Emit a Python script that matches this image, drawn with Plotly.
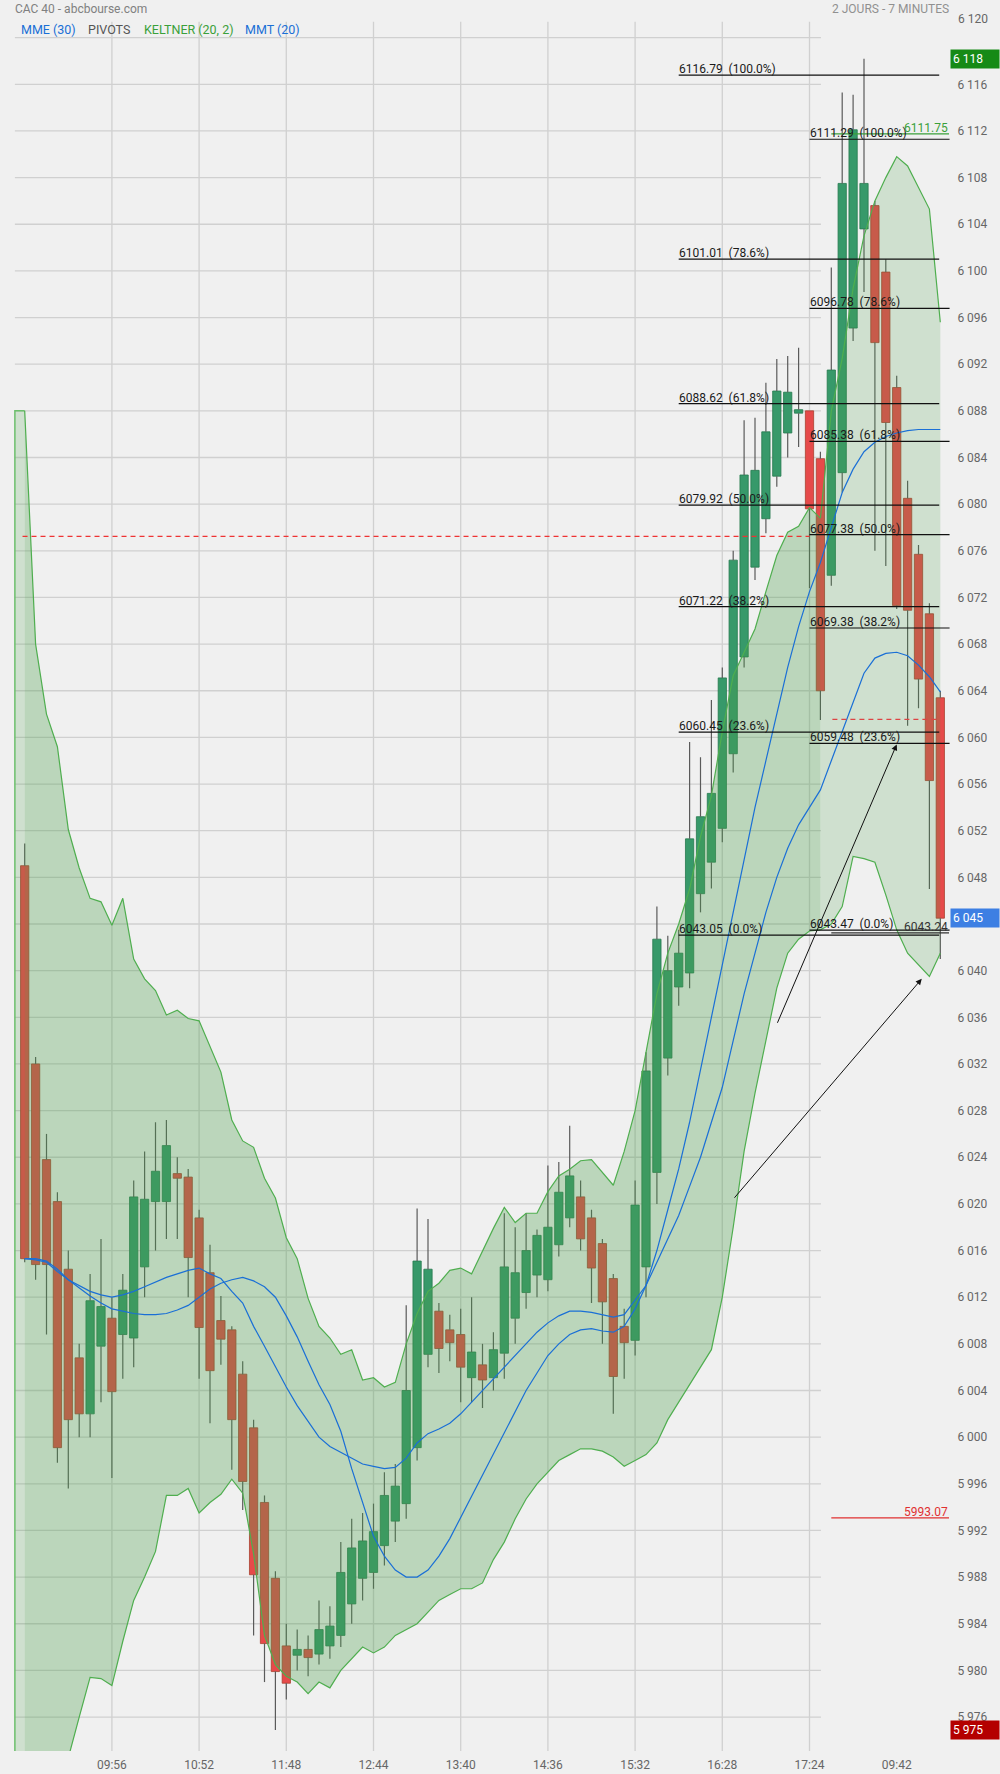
import plotly.graph_objects as go

# ---------------- DATA ----------------
candle_idx = list(range(85))
opens = [6049.0, 6032.0, 6023.8, 6020.2, 6014.4, 6006.8, 6002.0, 6007.8, 6010.2, 6008.8,
         6008.5, 6014.6, 6020.2, 6020.2, 6022.6, 6022.3, 6018.8, 6014.1, 6010.0, 6009.2,
         6005.4, 6000.8, 5994.4, 5987.9, 5982.1, 5981.3, 5981.8, 5981.4, 5982.1, 5983.0,
         5985.7, 5987.9, 5988.4, 5990.7, 5992.8, 5994.3, 5999.1, 6007.1, 6010.8, 6009.2,
         6008.8, 6005.1, 6006.2, 6005.1, 6007.2, 6010.2, 6012.4, 6013.9, 6013.5, 6016.5,
         6018.8, 6020.6, 6018.8, 6016.6, 6013.6, 6009.5, 6008.3, 6014.6, 6022.7, 6032.5,
         6038.6, 6039.8, 6046.6, 6049.3, 6052.2, 6058.6, 6066.9, 6074.6, 6078.75, 6082.4,
         6086.1, 6087.8, 6088.0, 6083.9, 6073.9, 6082.7, 6095.1, 6103.6, 6105.6, 6099.9,
         6090.0, 6080.5, 6075.7, 6070.6, 6063.4]
highs = [6050.9, 6032.6, 6026.0, 6021.0, 6016.0, 6008.0, 6014.0, 6017.0, 6012.0, 6014.0,
         6022.0, 6024.5, 6027.0, 6027.2, 6024.0, 6023.0, 6019.5, 6016.5, 6012.1, 6009.5,
         6006.5, 6001.5, 5995.0, 5988.5, 5984.0, 5983.5, 5983.0, 5986.0, 5985.5, 5991.0,
         5993.0, 5993.5, 5994.3, 5997.0, 5997.7, 6011.3, 6019.6, 6018.7, 6011.5, 6010.5,
         6011.0, 6012.0, 6008.0, 6009.0, 6019.2, 6018.0, 6019.2, 6017.8, 6023.3, 6023.6,
         6026.7, 6022.0, 6019.5, 6017.0, 6014.0, 6011.0, 6022.0, 6033.0, 6045.5, 6043.0,
         6043.5, 6059.6, 6058.3, 6063.2, 6066.0, 6076.0, 6087.2, 6087.4, 6090.4, 6092.45,
         6092.7, 6093.4, 6088.0, 6084.5, 6100.3, 6115.3, 6115.1, 6118.2, 6106.0, 6101.0,
         6091.0, 6082.0, 6076.5, 6071.5, 6064.0]
lows = [6015.0, 6013.5, 6008.8, 5997.8, 5995.6, 6000.0, 6000.0, 6003.0, 5996.5, 6005.0,
        6006.0, 6012.0, 6016.0, 6017.0, 6017.0, 6012.0, 6005.0, 6001.2, 6006.2, 5997.2,
        5993.75, 5983.0, 5979.0, 5974.9, 5977.5, 5980.0, 5979.5, 5980.5, 5981.0, 5982.0,
        5984.0, 5986.0, 5987.0, 5989.0, 5991.0, 5993.0, 5998.0, 6006.0, 6005.5, 6006.5,
        6003.0, 6003.0, 6002.5, 6004.0, 6005.0, 6008.0, 6011.0, 6012.0, 6012.5, 6015.5,
        6018.0, 6016.0, 6011.5, 6008.0, 6002.0, 6005.0, 6007.0, 6012.0, 6020.0, 6031.0,
        6037.0, 6038.5, 6045.0, 6047.05, 6051.0, 6057.0, 6066.0, 6073.5, 6077.5, 6081.5,
        6084.0, 6084.9, 6072.8, 6061.5, 6073.0, 6081.0, 6094.0, 6098.2, 6076.0, 6074.7,
        6071.0, 6061.0, 6062.5, 6047.0, 6041.0]
closes = [6015.3, 6014.8, 6014.8, 5999.1, 6001.5, 6002.0, 6011.7, 6011.2, 6003.9, 6012.6,
          6020.6, 6020.4, 6022.8, 6025.0, 6022.2, 6015.4, 6009.4, 6005.7, 6008.4, 6001.5,
          5996.2, 5988.2, 5982.3, 5979.9, 5978.9, 5981.8, 5981.1, 5983.5, 5983.8, 5988.4,
          5990.5, 5991.1, 5991.9, 5995.0, 5995.8, 6004.0, 6015.1, 6014.4, 6007.6, 6008.1,
          6006.0, 6007.3, 6004.9, 6007.5, 6014.6, 6014.1, 6016.0, 6017.3, 6018.0, 6021.0,
          6022.4, 6017.0, 6014.5, 6011.6, 6005.2, 6008.1, 6019.9, 6031.4, 6042.7, 6040.0,
          6041.5, 6051.3, 6053.2, 6055.2, 6065.1, 6075.2, 6082.5, 6082.9, 6086.2, 6089.7,
          6089.6, 6088.1, 6079.6, 6064.0, 6091.5, 6107.5, 6112.1, 6107.5, 6093.85, 6087.0,
          6071.3, 6070.9, 6065.0, 6056.3, 6044.5]

# Keltner (20, 2) - session 1 (candles 0..73) and session 2 (candles 73..84)
kelt1_idx = list(range(74))
kelt1_up = [6088.0, 6068.0, 6062.0, 6059.2, 6052.1, 6048.8, 6046.2, 6045.9, 6043.9, 6046.2,
            6041.0, 6039.3, 6038.3, 6036.2, 6036.6, 6035.9, 6035.7, 6033.5, 6031.3, 6027.2,
            6025.4, 6024.85, 6022.2, 6020.5, 6017.1, 6015.3, 6011.9, 6009.5, 6008.5, 6007.1,
            6007.5, 6004.9, 6005.1, 6004.3, 6004.7, 6008.0, 6010.6, 6012.5, 6013.2, 6014.3,
            6014.5, 6014.0, 6016.0, 6017.9, 6019.7, 6018.4, 6019.2, 6019.2, 6021.05, 6022.4,
            6022.97, 6023.7, 6023.8, 6022.7, 6021.6, 6024.5, 6028.0, 6033.0, 6038.0, 6041.5,
            6044.0, 6047.0, 6051.5, 6055.0, 6060.5, 6065.3, 6067.3, 6069.3, 6072.5, 6075.6,
            6077.6, 6078.1, 6079.7, 6078.8]
kelt1_lo = [5955.0, 5959.0, 5963.0, 5967.5, 5972.5, 5976.0, 5979.4, 5979.3, 5978.7, 5982.5,
            5986.0, 5988.0, 5990.2, 5995.0, 5995.0, 5995.6, 5993.5, 5994.4, 5995.1, 5996.4,
            5995.2, 5990.0, 5983.0, 5980.5, 5979.5, 5979.0, 5978.0, 5979.0, 5978.5, 5980.0,
            5981.0, 5982.0, 5981.5, 5982.0, 5983.0, 5983.5, 5984.0, 5985.0, 5986.0, 5986.5,
            5987.0, 5987.0, 5987.5, 5989.5, 5991.0, 5993.0, 5994.7, 5996.0, 5997.0, 5998.0,
            5998.5, 5999.0, 5999.0, 5998.8, 5998.3, 5997.5, 5998.0, 5998.5, 5999.5, 6001.5,
            6003.0, 6004.5, 6006.0, 6007.5, 6012.0, 6018.0, 6024.5, 6029.5, 6034.0, 6038.5,
            6041.5, 6042.7, 6043.4, 6043.5]
kelt2_idx = list(range(73, 85))
kelt2_up = [6078.8, 6088.0, 6092.5, 6098.5, 6103.0, 6106.0, 6108.0, 6109.8, 6109.0, 6107.2,
            6105.3, 6095.6]
kelt2_lo = [6043.5, 6044.0, 6045.5, 6049.8, 6049.6, 6049.3, 6046.5, 6043.5, 6041.5, 6040.5,
            6039.5, 6041.5]
prev_kelt_top = 6088.0

# moving averages
mme30 = [6015.3, 6015.2, 6015.0, 6014.2, 6013.5, 6013.0, 6012.5, 6012.2, 6012.0, 6012.2,
         6012.5, 6012.9, 6013.3, 6013.7, 6014.0, 6014.3, 6014.5, 6014.0, 6013.6, 6012.5,
         6011.5, 6009.5, 6007.8, 6006.0, 6004.3, 6002.7, 6001.3, 6000.0, 5999.2, 5998.7,
         5998.2, 5997.7, 5997.5, 5997.3, 5997.4, 5998.2, 5999.5, 6000.3, 6000.7, 6001.2,
         6002.0, 6003.0, 6004.0, 6005.0, 6006.0, 6007.0, 6008.0, 6009.0, 6009.8, 6010.4,
         6010.8, 6010.8, 6010.7, 6010.5, 6010.3, 6010.5, 6011.7, 6013.0, 6015.0, 6017.0,
         6019.0, 6021.5, 6024.0, 6027.0, 6030.0, 6034.0, 6038.0, 6041.5, 6045.0, 6048.0,
         6050.5, 6052.5, 6054.0, 6055.5, 6058.0, 6060.5, 6063.0, 6065.5, 6066.8, 6067.2,
         6067.3, 6067.0, 6066.2, 6065.2, 6063.9]
mmt20 = [6015.3, 6015.3, 6015.1, 6014.4, 6013.5, 6012.8, 6012.1, 6011.5, 6011.0, 6010.8,
         6010.6, 6010.5, 6010.5, 6010.6, 6010.9, 6011.3, 6012.0, 6012.7, 6013.2, 6013.5,
         6013.7, 6013.4, 6012.9, 6012.0, 6010.4, 6008.6, 6006.5, 6004.5, 6002.8, 6000.5,
         5997.3, 5994.3, 5991.5, 5989.8, 5988.6, 5988.0, 5988.0, 5988.6, 5989.8, 5991.3,
         5993.1, 5995.0, 5996.8, 5998.6, 6000.4, 6002.2, 6004.0, 6005.5, 6007.0, 6008.0,
         6008.8, 6009.2, 6009.3, 6009.1, 6009.0, 6009.5, 6011.0, 6013.0, 6016.0, 6019.5,
         6023.0, 6027.0, 6031.5, 6036.0, 6040.5, 6045.0, 6049.5, 6054.0, 6058.0, 6062.0,
         6066.0, 6069.5, 6072.5, 6075.0, 6078.0, 6081.0, 6083.0, 6084.5, 6085.3, 6085.8,
         6086.1, 6086.3, 6086.4, 6086.4, 6086.4]

# Fibonacci retracements
fibA_vals = [6116.79, 6101.01, 6088.62, 6079.92, 6071.22, 6060.45, 6043.05]
fibB_vals = [6111.29, 6096.78, 6085.38, 6077.38, 6069.38, 6059.48, 6043.47]
fib_pcts = ["100.0%", "78.6%", "61.8%", "50.0%", "38.2%", "23.6%", "0.0%"]
fibA_span = (60.0, 83.9)
fibB_span = (72.0, 84.85)

# pivots / levels
pivot1 = 6077.24
pivot1_span = (-0.2, 72.0)
pivot2 = 6061.55
pivot2_span = (74.1, 83.9)
levels_vals = [6111.75, 6043.24, 5993.07]
levels_cols = ["#3aa03a", "#333333", "#e03030"]
levels_span = (74.0, 84.8)

# arrows (start idx, start val, end idx, end val)
arrows = [(69.0, 6035.4, 80.0, 6059.4), (65.0, 6020.4, 82.3, 6039.3)]

# price tags
tag_vals = [6118.2, 6044.5, 5974.9]
tag_texts = ["6 118", "6 045", "5 975"]
tag_cols = ["#168a16", "#3d7fe3", "#b40000"]

# axes
time_ticks = [8, 16, 24, 32, 40, 48, 56, 64, 72, 80]
time_labels = ["09:56", "10:52", "11:48", "12:44", "13:40", "14:36", "15:32", "16:28", "17:24", "09:42"]
grid_x = [8, 16, 24, 32, 40, 48, 56, 64, 72]
price_grid = list(range(5976, 6121, 4))
# 6044 is hidden under the last-price tag, 6120 is drawn separately at the top
price_ticks = [v for v in range(5976, 6117, 4) if v != 6044]
top_label = "6 120"

# ---------------- FIGURE ----------------
W, H = 1000, 1774
BG = "#f0f0f0"
FONT = "Roboto"
GREEN_UP = "#37996a"
RED_DN = "#e64a4a"

fig = go.Figure()

# candle bodies (bars are drawn below scatter fills)
base = [min(o, c) for o, c in zip(opens, closes)]
height = [max(abs(c - o), 0.3) for o, c in zip(opens, closes)]
cols = [GREEN_UP if c >= o else RED_DN for o, c in zip(opens, closes)]
lcols = ["#267a4e" if c >= o else "#a8402f" for o, c in zip(opens, closes)]
fig.add_trace(go.Bar(x=candle_idx, y=height, base=base, width=0.76,
                     marker=dict(color=cols, line=dict(color=lcols, width=0.8)),
                     hoverinfo="skip", showlegend=False))

# wicks
wx, wy = [], []
for i, o, h, l, c in zip(candle_idx, opens, highs, lows, closes):
    top, bot = max(o, c), min(o, c)
    if h > top:
        wx += [i, i, None]; wy += [top, h, None]
    if l < bot:
        wx += [i, i, None]; wy += [bot, l, None]
fig.add_trace(go.Scatter(x=wx, y=wy, mode="lines", line=dict(color="#5a5a5a", width=1.2),
                         hoverinfo="skip", showlegend=False))

# previous-session strip
fig.add_trace(go.Scatter(x=[-0.9, 0, 0, -0.9], y=[prev_kelt_top, prev_kelt_top, 5950, 5950],
                         fill="toself", fillcolor="rgba(76,160,76,0.20)", mode="lines",
                         line=dict(width=0), hoverinfo="skip", showlegend=False))
fig.add_trace(go.Scatter(x=[-0.9, -0.9, 0], y=[5950, prev_kelt_top, prev_kelt_top], mode="lines",
                         line=dict(color="#6cbf6c", width=1.5), hoverinfo="skip", showlegend=False))

# Keltner session 1
fig.add_trace(go.Scatter(x=kelt1_idx + kelt1_idx[::-1], y=kelt1_up + kelt1_lo[::-1],
                         fill="toself", fillcolor="rgba(76,160,76,0.32)", mode="lines",
                         line=dict(width=0), hoverinfo="skip", showlegend=False))
# Keltner session 2
fig.add_trace(go.Scatter(x=kelt2_idx + kelt2_idx[::-1], y=kelt2_up + kelt2_lo[::-1],
                         fill="toself", fillcolor="rgba(76,160,76,0.20)", mode="lines",
                         line=dict(width=0), hoverinfo="skip", showlegend=False))
for xs, ys in [(kelt1_idx, kelt1_up), (kelt1_idx, kelt1_lo), (kelt2_idx, kelt2_up), (kelt2_idx, kelt2_lo)]:
    fig.add_trace(go.Scatter(x=xs, y=ys, mode="lines", line=dict(color="#4fae4f", width=1.2),
                             hoverinfo="skip", showlegend=False))

# moving averages
for ys in (mme30, mmt20):
    fig.add_trace(go.Scatter(x=candle_idx, y=ys, mode="lines", line=dict(color="#1a6fd6", width=1.2),
                             hoverinfo="skip", showlegend=False))

shapes = []
# gridlines
for v in price_grid:
    shapes.append(dict(type="line", xref="x", yref="y", x0=-0.9, x1=73.05, y0=v, y1=v,
                       line=dict(color="#d0d0d0", width=1.3), layer="below"))
for gx in grid_x:
    shapes.append(dict(type="line", xref="x", yref="y domain", x0=gx, x1=gx, y0=0, y1=1,
                       line=dict(color="#d0d0d0", width=1.3), layer="below"))
# fib lines
for v in fibA_vals:
    shapes.append(dict(type="line", xref="x", yref="y", x0=fibA_span[0], x1=fibA_span[1], y0=v, y1=v,
                       line=dict(color="#111111", width=1.2), layer="above"))
for v in fibB_vals:
    shapes.append(dict(type="line", xref="x", yref="y", x0=fibB_span[0], x1=fibB_span[1], y0=v, y1=v,
                       line=dict(color="#111111", width=1.2), layer="above"))
# pivots
shapes.append(dict(type="line", xref="x", yref="y", x0=pivot1_span[0], x1=pivot1_span[1], y0=pivot1, y1=pivot1,
                   line=dict(color="#ee3333", width=1.2, dash="5px,4px"), layer="above"))
shapes.append(dict(type="line", xref="x", yref="y", x0=pivot2_span[0], x1=pivot2_span[1], y0=pivot2, y1=pivot2,
                   line=dict(color="#dd4444", width=1.2, dash="5px,4px"), layer="above"))
for v, c in zip(levels_vals, levels_cols):
    shapes.append(dict(type="line", xref="x", yref="y", x0=levels_span[0], x1=levels_span[1], y0=v, y1=v,
                       line=dict(color=c, width=1.2), layer="above"))

annotations = []
for vals, span in ((fibA_vals, fibA_span), (fibB_vals, fibB_span)):
    for v, p in zip(vals, fib_pcts):
        annotations.append(dict(x=span[0], y=v, xref="x", yref="y", xanchor="left", yanchor="bottom",
                                text=f"{v:.2f}\u00a0 ({p})", showarrow=False, xshift=-1, yshift=-2,
                                borderpad=0, font=dict(family=FONT, size=12, color="#1a1a1a")))
for v, c in zip(levels_vals, levels_cols):
    annotations.append(dict(x=levels_span[1], y=v, xref="x", yref="y", xanchor="right", yanchor="bottom",
                            text=f"{v:.2f}", showarrow=False, yshift=-2, borderpad=0,
                            font=dict(family=FONT, size=12, color=c)))
for sx, sy, ex, ey in arrows:
    annotations.append(dict(x=ex, y=ey, ax=sx, ay=sy, xref="x", yref="y", axref="x", ayref="y",
                            text="", showarrow=True, arrowhead=2, arrowsize=1.2, arrowwidth=1,
                            arrowcolor="#111111"))
for v, t, c in zip(tag_vals, tag_texts, tag_cols):
    annotations.append(dict(x=0.95, y=v, xref="paper", yref="y", xanchor="left", yanchor="middle",
                            text=t, showarrow=False, bgcolor=c, width=44, height=14, borderpad=2,
                            align="left", font=dict(family=FONT, size=12, color="white")))
# top price label (shifted up in the reference)
annotations.append(dict(x=956 / W, y=1 - 19 / H, xref="paper", yref="paper", xanchor="left", yanchor="middle",
                        text=top_label, showarrow=False, font=dict(family=FONT, size=12, color="#666666")))
# header texts
annotations.append(dict(x=13 / W, y=1 - 9 / H, xref="paper", yref="paper", xanchor="left", yanchor="middle",
                        text="CAC 40 - abcbourse.com", showarrow=False,
                        font=dict(family=FONT, size=12, color="#808080")))
annotations.append(dict(x=951 / W, y=1 - 9 / H, xref="paper", yref="paper", xanchor="right", yanchor="middle",
                        text="2 JOURS - 7 MINUTES", showarrow=False,
                        font=dict(family=FONT, size=12, color="#909090")))
legend_items = [("MME (30)", "#1a6fd6", 19), ("PIVOTS", "#555555", 86), ("KELTNER (20, 2)", "#3aa03a", 142),
                ("MMT (20)", "#1a6fd6", 243)]
for txt, col, px in legend_items:
    annotations.append(dict(x=px / W, y=1 - 30 / H, xref="paper", yref="paper", xanchor="left", yanchor="middle",
                            text=txt, showarrow=False, font=dict(family=FONT, size=12.5, color=col)))

x_lo = -24.7 / 10.9
x_hi = (950 - 24.7) / 10.9
y_top_px, y_bot_px = 21.7, 1751.0
v_per_px = 1 / 11.6625
y_hi = 6116 + (84.3 - y_top_px) * v_per_px
y_lo = 6116 - (y_bot_px - 84.3) * v_per_px

fig.update_layout(
    width=W, height=H, margin=dict(l=0, r=0, t=0, b=0),
    paper_bgcolor=BG, plot_bgcolor=BG, showlegend=False,
    font=dict(family=FONT, size=12, color="#666666"),
    separators=". ",
    shapes=shapes, annotations=annotations, bargap=0,
    xaxis=dict(domain=[0, 0.95], range=[x_lo, x_hi], showgrid=False, zeroline=False,
               tickmode="array", tickvals=time_ticks, ticktext=time_labels,
               ticks="outside", ticklen=3, tickcolor="rgba(0,0,0,0)",
               tickfont=dict(family=FONT, size=12, color="#666666"), showline=False, fixedrange=True),
    yaxis=dict(domain=[1 - y_bot_px / H, 1 - y_top_px / H], range=[y_lo, y_hi], side="right",
               showgrid=False, zeroline=False, tickmode="array", tickvals=price_ticks,
               tickformat=",d", ticks="outside", ticklen=4, tickcolor="rgba(0,0,0,0)",
               tickfont=dict(family=FONT, size=12, color="#666666"), showline=False, fixedrange=True),
)

fig.write_html("out.html", config={"displayModeBar": False, "staticPlot": True},
               post_script="document.body.style.margin='0px';document.body.style.overflow='hidden';")
